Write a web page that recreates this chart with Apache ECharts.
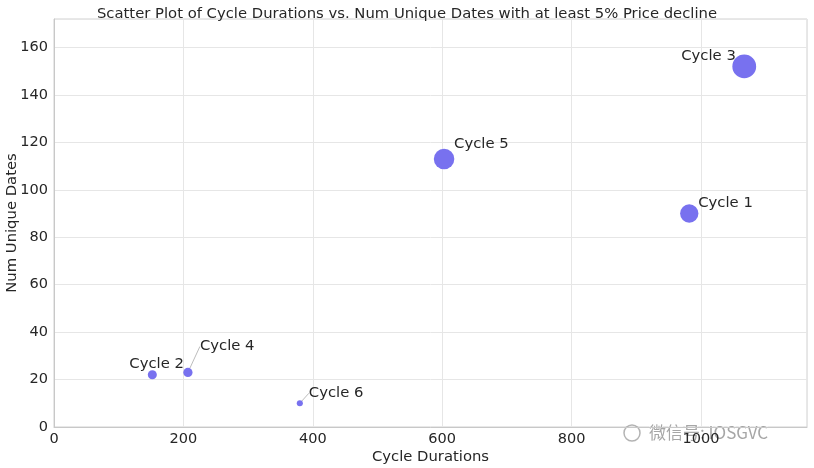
<!DOCTYPE html>
<html>
<head>
<meta charset="utf-8">
<script src="https://cdn.jsdelivr.net/npm/echarts@6/dist/echarts.min.js"></script>
<style>html,body{margin:0;padding:0;background:#fff}#c{width:814px;height:468px}</style>
</head>
<body>
<div id="c"></div>
<script>
const cycleNames = ['Cycle 1', 'Cycle 2', 'Cycle 3', 'Cycle 4', 'Cycle 5', 'Cycle 6'];
const cycleDurations = [982, 152, 1067, 207, 603, 380];
const numUniqueDates = [90, 22, 152, 23, 113, 10];
const xTicks = [0, 200, 400, 600, 800, 1000];
const yTicks = [0, 20, 40, 60, 80, 100, 120, 140, 160];

// label placement (pixel offsets of label from point), styling only
const labelMoves = {
  'Cycle 1': [9, -10, 'left'],
  'Cycle 2': [-23, -11, 'left'],
  'Cycle 3': [-63, -10, 'left'],
  'Cycle 4': [12, -26, 'left'],
  'Cycle 5': [10, -15, 'left'],
  'Cycle 6': [9, -10, 'left']
};
const withLine = { 'Cycle 4': true, 'Cycle 6': true };

const font = 'DejaVu Sans';
const data = cycleNames.map((n, i) => ({
  name: n,
  value: [cycleDurations[i], numUniqueDates[i]],
  labelLine: { show: !!withLine[n], lineStyle: { color: '#bdbdbd', width: 1 } }
}));

const chart = echarts.init(document.getElementById('c'));
chart.setOption({
  animation: false,
  backgroundColor: '#fff',
  title: {
    text: 'Scatter Plot of Cycle Durations vs. Num Unique Dates with at least 5% Price decline',
    left: 'center', top: 2,
    textStyle: { fontFamily: font, fontSize: 14.8, fontWeight: 'normal', color: '#262626' }
  },
  grid: {
    left: 54, right: 7, top: 19, bottom: 41,
    outerBoundsMode: 'none', containLabel: false,
    show: true, borderColor: '#d0d0d0', borderWidth: 1
  },
  xAxis: {
    type: 'value', min: 0, max: 1164, interval: 200,
    name: 'Cycle Durations', nameLocation: 'middle', nameGap: 23, nameMoveOverlap: false,
    nameTextStyle: { fontFamily: font, fontSize: 14.8, color: '#262626' },
    axisLine: { show: true, lineStyle: { color: '#c8c8c8' } },
    axisTick: { show: false },
    axisLabel: { fontFamily: font, fontSize: 14.5, color: '#262626', margin: 5, showMaxLabel: false,
      formatter: v => xTicks.includes(v) ? String(v) : '' },
    splitLine: { show: true, lineStyle: { color: '#e6e6e6' } }
  },
  yAxis: {
    type: 'value', min: 0, max: 172, interval: 20,
    name: 'Num Unique Dates', nameLocation: 'middle', nameGap: 34, nameMoveOverlap: false,
    nameTextStyle: { fontFamily: font, fontSize: 14.8, color: '#262626' },
    axisLine: { show: true, lineStyle: { color: '#c8c8c8' } },
    axisTick: { show: false },
    axisLabel: { fontFamily: font, fontSize: 14.5, color: '#262626', margin: 6, showMaxLabel: false,
      formatter: v => yTicks.includes(v) ? String(v) : '' },
    splitLine: { show: true, lineStyle: { color: '#e6e6e6' } }
  },
  series: [{
    type: 'scatter',
    data: data,
    symbolSize: v => 1.93 * Math.sqrt(v[1]),
    itemStyle: { color: '#7871ef', opacity: 1 },
    label: {
      show: true, position: 'inside', formatter: p => p.name,
      fontFamily: font, fontSize: 14.8, color: '#262626'
    },
    labelLayout: function (params) {
      const n = cycleNames[params.dataIndex];
      const m = labelMoves[n];
      const r = params.rect;
      const cx = r.x + r.width / 2, cy = r.y + r.height / 2;
      return { x: cx + m[0], y: cy + m[1], align: m[2], verticalAlign: 'middle' };
    },
    emphasis: { disabled: true }
  }],
  graphic: [{
    type: 'text', left: 648, top: 423,
    style: { text: '微信号: IOSGVC', fontFamily: 'Noto Sans CJK SC', fontSize: 17,
      fill: 'rgba(150,150,150,0.85)', stroke: 'rgba(255,255,255,0.7)', lineWidth: 2 }
  }, {
    type: 'circle', shape: { cx: 632, cy: 433, r: 8 },
    style: { fill: 'none', stroke: 'rgba(160,160,160,0.8)', lineWidth: 1.5 }
  }]
});
</script>
</body>
</html>
